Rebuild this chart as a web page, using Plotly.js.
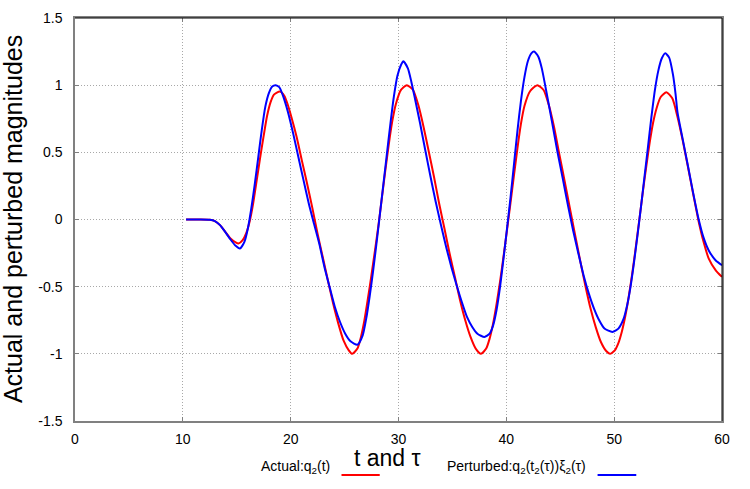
<!DOCTYPE html>
<html>
<head>
<meta charset="utf-8">
<script src="https://cdn.plot.ly/plotly-3.0.1.min.js"></script>
<style>html,body{margin:0;padding:0;background:#fff;}#chart{width:750px;height:489px;}</style>
</head>
<body>
<div id="chart"></div>
<script>
// Actual q2(t)
const actualT = [10.3, 11.5, 12.5, 12.97, 13.45, 13.94, 14.42, 14.9, 15.16, 15.55, 15.87, 16.19, 16.52, 16.84, 17.16, 17.48, 17.81, 18.13, 18.45, 19.0, 19.42, 19.74, 20.06, 20.55, 21.03, 21.52, 22.0, 22.48, 22.97, 23.45, 23.94, 24.42, 24.9, 25.39, 25.71, 26.19, 26.52, 26.84, 27.16, 27.48, 27.81, 28.13, 28.45, 28.77, 29.1, 29.42, 29.74, 30.23, 30.77, 31.35, 31.84, 32.32, 32.81, 33.29, 33.77, 34.26, 34.74, 35.23, 35.71, 36.19, 36.68, 37.16, 37.65, 38.13, 38.45, 38.77, 39.1, 39.42, 39.74, 40.06, 40.39, 40.71, 41.03, 41.35, 41.68, 42.2, 42.87, 43.45, 43.94, 44.42, 44.9, 45.39, 45.87, 46.35, 46.84, 47.32, 47.81, 48.29, 48.77, 49.26, 49.61, 50.06, 50.39, 50.71, 51.03, 51.35, 51.68, 52.0, 52.32, 52.65, 52.97, 53.29, 53.61, 53.94, 54.3, 54.84, 55.39, 55.87, 56.35, 56.84, 57.32, 57.81, 58.29, 58.77, 59.42, 60.0];
const actualY = [0, 0, -0.002, -0.012, -0.042, -0.092, -0.142, -0.171, -0.179, -0.154, -0.104, -0.017, 0.119, 0.285, 0.455, 0.615, 0.77, 0.872, 0.93, 0.952, 0.919, 0.852, 0.765, 0.616, 0.442, 0.268, 0.09, -0.1, -0.278, -0.452, -0.626, -0.775, -0.9, -0.974, -1.0, -0.961, -0.874, -0.75, -0.59, -0.42, -0.235, -0.05, 0.155, 0.36, 0.56, 0.73, 0.855, 0.965, 1.0, 0.964, 0.852, 0.691, 0.504, 0.318, 0.119, -0.067, -0.253, -0.427, -0.601, -0.75, -0.874, -0.961, -1.0, -0.961, -0.887, -0.775, -0.626, -0.46, -0.275, -0.08, 0.125, 0.33, 0.53, 0.71, 0.845, 0.955, 1.0, 0.964, 0.852, 0.691, 0.492, 0.293, 0.094, -0.104, -0.303, -0.489, -0.663, -0.801, -0.912, -0.979, -1.0, -0.974, -0.92, -0.835, -0.72, -0.575, -0.4, -0.21, -0.01, 0.2, 0.39, 0.57, 0.72, 0.83, 0.91, 0.947, 0.902, 0.765, 0.591, 0.393, 0.194, -0.005, -0.166, -0.291, -0.378, -0.427];
// Perturbed q2(t2(tau)) xi2(tau)
const pertT = [10.3, 11.5, 12.5, 12.97, 13.45, 13.94, 14.42, 14.9, 15.29, 15.71, 16.03, 16.35, 16.68, 17.0, 17.32, 17.65, 17.97, 18.29, 18.61, 18.94, 19.26, 19.74, 20.23, 20.71, 21.19, 21.68, 22.16, 22.65, 23.13, 23.61, 24.1, 24.58, 25.06, 25.55, 26.19, 26.68, 27.0, 27.32, 27.65, 27.97, 28.29, 28.61, 28.94, 29.26, 29.58, 29.9, 30.23, 30.45, 30.87, 31.19, 31.52, 32.0, 32.48, 32.97, 33.45, 33.94, 34.42, 34.9, 35.39, 35.87, 36.35, 36.84, 37.32, 37.97, 38.45, 38.77, 39.1, 39.42, 39.74, 40.06, 40.39, 40.71, 41.03, 41.35, 41.68, 42.0, 42.32, 42.58, 42.97, 43.29, 43.77, 44.26, 44.74, 45.23, 45.71, 46.19, 46.68, 47.16, 47.65, 48.13, 48.61, 49.1, 49.84, 50.39, 50.87, 51.2, 51.52, 51.84, 52.16, 52.48, 52.8, 53.12, 53.45, 53.77, 54.1, 54.42, 54.74, 55.1, 55.45, 55.7, 55.87, 56.35, 56.84, 57.32, 57.81, 58.29, 58.77, 59.42, 60.0];
const pertY = [0, 0, -0.002, -0.012, -0.042, -0.094, -0.149, -0.196, -0.216, -0.166, -0.067, 0.082, 0.268, 0.467, 0.666, 0.84, 0.939, 0.99, 1.0, 0.985, 0.927, 0.802, 0.641, 0.467, 0.293, 0.119, -0.03, -0.179, -0.353, -0.502, -0.651, -0.763, -0.85, -0.907, -0.932, -0.862, -0.74, -0.575, -0.38, -0.17, 0.05, 0.27, 0.5, 0.72, 0.92, 1.07, 1.15, 1.178, 1.125, 1.026, 0.902, 0.716, 0.517, 0.318, 0.132, -0.042, -0.204, -0.353, -0.489, -0.614, -0.725, -0.8, -0.85, -0.875, -0.85, -0.79, -0.67, -0.5, -0.29, -0.07, 0.165, 0.41, 0.66, 0.88, 1.06, 1.18, 1.237, 1.25, 1.212, 1.125, 0.927, 0.716, 0.504, 0.306, 0.107, -0.08, -0.253, -0.415, -0.552, -0.663, -0.75, -0.812, -0.837, -0.812, -0.74, -0.64, -0.5, -0.32, -0.12, 0.09, 0.31, 0.53, 0.76, 0.96, 1.11, 1.2, 1.237, 1.205, 1.08, 0.93, 0.8, 0.6, 0.4, 0.2, 0.01, -0.135, -0.23, -0.305, -0.34];

const xTicks = [0, 10, 20, 30, 40, 50, 60];
const yTicks = [-1.5, -1, -0.5, 0, 0.5, 1, 1.5];
const yTickText = ['-1.5', '-1', '-0.5', '0', '0.5', '1', '1.5'];

const FONT = 'Liberation Sans, Arial, sans-serif';

const traces = [
  {x: actualT, y: actualY, mode: 'lines', line: {color: '#ff0000', width: 2, shape: 'spline', smoothing: 0.6}, showlegend: false, name: 'Actual'},
  {x: pertT, y: pertY, mode: 'lines', line: {color: '#0000ff', width: 2, shape: 'spline', smoothing: 0.6}, showlegend: false, name: 'Perturbed'}
];

const axisCommon = {
  showgrid: true, gridcolor: '#a8a8a8', griddash: '1px,2px', gridwidth: 1,
  zeroline: false, showline: true, linecolor: '#808080', linewidth: 1.5,
  ticks: 'inside', ticklen: 4, tickcolor: '#808080', tickwidth: 1,
  mirror: 'allticks', tickfont: {family: FONT, size: 14, color: '#000'}
};

const layout = {
  width: 750, height: 489,
  margin: {l: 75, r: 27.5, t: 17.5, b: 68},
  paper_bgcolor: '#fff', plot_bgcolor: '#fff',
  font: {family: FONT, color: '#000'},
  xaxis: Object.assign({}, axisCommon, {range: [0, 60], tickvals: xTicks, ticktext: xTicks.map(String), ticklabelstandoff: 4}),
  yaxis: Object.assign({}, axisCommon, {range: [-1.5, 1.5], tickvals: yTicks, ticktext: yTickText, ticklabelstandoff: 8}),
  shapes: [
    {type: 'line', xref: 'paper', yref: 'paper', x0: 0, x1: 1, y0: 1, y1: 1, line: {color: '#000', width: 1}},
    {type: 'line', xref: 'paper', yref: 'paper', x0: 1, x1: 1, y0: 0, y1: 1, line: {color: '#000', width: 1}},
    {type: 'line', xref: 'paper', yref: 'paper', x0: 0.4119, x1: 0.471, y0: -0.1338, y1: -0.1338, line: {color: '#ff0000', width: 2}},
    {type: 'line', xref: 'paper', yref: 'paper', x0: 0.8077, x1: 0.8675, y0: -0.1338, y1: -0.1338, line: {color: '#0000ff', width: 2}}
  ],
  annotations: [
    {xref: 'paper', yref: 'paper', x: -0.0965, y: 0.5, text: 'Actual and perturbed magnitudes', textangle: -90, showarrow: false, xanchor: 'center', yanchor: 'middle', font: {family: FONT, size: 25, color: '#000'}},
    {xref: 'paper', yref: 'paper', x: 0.4834, y: -0.093, text: 't and τ', showarrow: false, xanchor: 'center', yanchor: 'middle', font: {family: FONT, size: 23, color: '#000'}},
    {xref: 'paper', yref: 'paper', x: 0.3965, y: -0.1152, text: 'Actual:q<sub>2</sub>(t)', showarrow: false, xanchor: 'right', yanchor: 'middle', font: {family: FONT, size: 14, color: '#000'}},
    {xref: 'paper', yref: 'paper', x: 0.7927, y: -0.1152, text: 'Perturbed:q<sub>2</sub>(t<sub>2</sub>(τ))ξ<sub>2</sub>(τ)', showarrow: false, xanchor: 'right', yanchor: 'middle', font: {family: FONT, size: 14, color: '#000'}}
  ]
};

Plotly.newPlot('chart', traces, layout, {displayModeBar: false});
</script>
</body>
</html>
